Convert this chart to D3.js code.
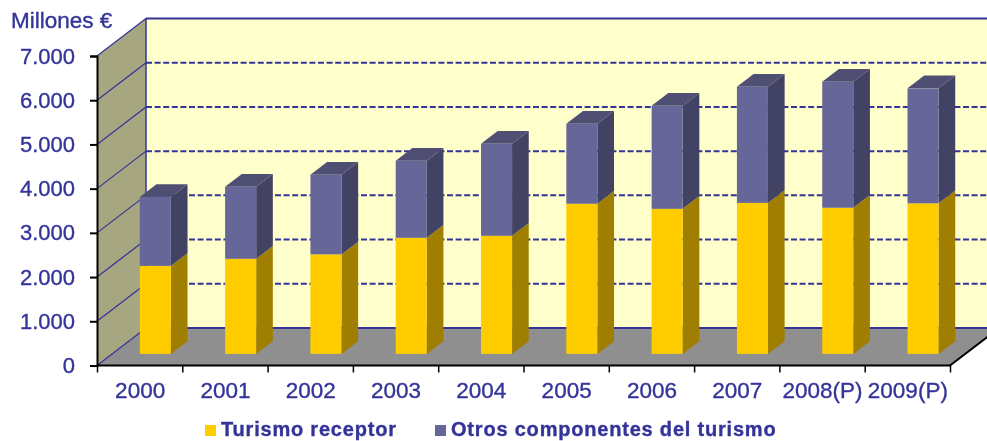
<!DOCTYPE html>
<html>
<head>
<meta charset="utf-8">
<script src="https://cdn.jsdelivr.net/npm/d3@7"></script>
<style>
  html, body { margin: 0; padding: 0; background: #fff; overflow: hidden; }
  svg { display: block; filter: blur(0.35px); }
  text { font-family: "Liberation Sans", Arial, sans-serif; fill: #333399; stroke: #333399; stroke-width: 0.35px; }
</style>
</head>
<body>
<svg id="chart"></svg>
<script>
// data
const years = ['2000', '2001', '2002', '2003', '2004', '2005', '2006', '2007', '2008(P)', '2009(P)'];
const turismoReceptor = [1990, 2150, 2250, 2625, 2670, 3395, 3280, 3415, 3305, 3405];
const otrosComponentes = [1560, 1630, 1800, 1745, 2080, 1810, 2330, 2625, 2850, 2600];
const yTicks = [0, 1000, 2000, 3000, 4000, 5000, 6000, 7000];
const seriesNames = ['Turismo receptor', 'Otros componentes del turismo'];

const width = 987;
const height = 441;
const blue = '#333399';

const svg = d3.select('#chart').attr('width', width).attr('height', height);

// front plane scales
const x = d3.scaleBand().domain(years).range([97.5, 950.5]).paddingInner(0.636).paddingOuter(0.318);
const xEdge = d3.scaleLinear().domain([0, years.length]).range([97, 950]);
const y = d3.scaleLinear().domain([0, 7000]).range([365.5, 56]);

// depth: 0 is the front plane, 1 is the back wall
const depthX = d3.scaleLinear().domain([0, 1]).range([0, 49]);
const depthY = d3.scaleLinear().domain([0, 1]).range([0, -37.5]);
const barDepth = [0.31, 0.65];

const project = (px, py, d) => [px + depthX(d), py + depthY(d)];
const poly = (pts) => 'M' + pts.map((p) => p.join(',')).join('L') + 'Z';

const [x0, x1] = xEdge.range();
const y0 = y(0);
const yTop = y(7000);

// left wall
svg.append('path')
  .attr('fill', '#a6a680')
  .attr('d', poly([project(x0, y0, 0), project(x0, yTop, 0), project(x0, yTop, 1), project(x0, y0, 1)]));

// back wall
svg.append('path')
  .attr('fill', '#ffffcc')
  .attr('d', poly([project(x0, y0, 1), project(x0, yTop, 1), project(x1, yTop, 1), project(x1, y0, 1)]));

// floor
svg.append('path')
  .attr('fill', '#8f8f8f')
  .attr('d', poly([project(x0, y0, 0), project(x1, y0, 0), project(x1, y0, 1), project(x0, y0, 1)]));

// gridlines on both walls
const grid = svg.append('g').attr('fill', 'none').attr('stroke', blue);
grid.selectAll('.side')
  .data(yTicks)
  .join('line')
  .attr('class', 'side')
  .attr('stroke-width', 1.2)
  .attr('x1', x0)
  .attr('y1', (d) => y(d))
  .attr('x2', (d) => project(x0, y(d), 1)[0])
  .attr('y2', (d) => project(x0, y(d), 1)[1]);
grid.selectAll('.back')
  .data(yTicks)
  .join('line')
  .attr('class', 'back')
  .attr('stroke-width', 2)
  .attr('stroke-dasharray', (d) => (d === 0 || d === 7000 ? null : '6 2.6'))
  .attr('x1', project(x0, 0, 1)[0])
  .attr('x2', project(x1, 0, 1)[0])
  .attr('y1', (d) => project(0, y(d), 1)[1])
  .attr('y2', (d) => project(0, y(d), 1)[1]);
grid.append('line')
  .attr('stroke-width', 1.5)
  .attr('x1', project(x0, 0, 1)[0])
  .attr('x2', project(x0, 0, 1)[0])
  .attr('y1', project(0, yTop, 1)[1])
  .attr('y2', project(0, y0, 1)[1]);

// stacked bars
const stackData = years.map((year, i) => ({ year, a: turismoReceptor[i], b: otrosComponentes[i] }));
const stacked = d3.stack().keys(['a', 'b'])(stackData);
const faceColors = [
  { front: '#ffcc00', side: '#a07f00' },
  { front: '#666699', side: '#424264', top: '#4f4f74' },
];

stacked.forEach((layer, s) => {
  const colors = faceColors[s];
  const g = svg.append('g');
  layer.forEach((seg) => {
    const left = x(seg.data.year);
    const right = left + x.bandwidth();
    const near = barDepth[0];
    const far = barDepth[1];
    // the value scale is shifted back to the plane the bar stands on
    const front = (v) => project(0, y(v), near)[1];
    const px = (v) => project(v, 0, near)[0];
    g.append('path')
      .attr('fill', colors.side)
      .attr('d', poly([
        [px(right), front(seg[0])],
        [px(right), front(seg[1])],
        [px(right) + depthX(far - near), front(seg[1]) + depthY(far - near)],
        [px(right) + depthX(far - near), front(seg[0]) + depthY(far - near)],
      ]));
    if (colors.top) {
      g.append('path')
        .attr('fill', colors.top)
        .attr('d', poly([
          [px(left), front(seg[1])],
          [px(right), front(seg[1])],
          [px(right) + depthX(far - near), front(seg[1]) + depthY(far - near)],
          [px(left) + depthX(far - near), front(seg[1]) + depthY(far - near)],
        ]));
    }
    g.append('rect')
      .attr('fill', colors.front)
      .attr('x', px(left))
      .attr('width', x.bandwidth())
      .attr('y', front(seg[1]))
      .attr('height', front(seg[0]) - front(seg[1]));
  });
});

// y axis
const yAxis = d3.axisLeft(y)
  .tickValues(yTicks)
  .tickSize(7)
  .tickPadding(15)
  .tickFormat((d) => (d === 0 ? '0' : d3.format(',')(d).replace(',', '.')));
const yG = svg.append('g').attr('transform', `translate(${x0},0)`).call(yAxis);
yG.select('.domain').attr('stroke', '#000').attr('stroke-width', 2);
yG.selectAll('.tick line').attr('stroke', '#000').attr('stroke-width', 2);
yG.selectAll('text').attr('font-size', 22).style('fill', blue);

// x axis: labels centred in the band, ticks on the band edges
const xAxis = d3.axisBottom(x).tickSize(0).tickPadding(17);
const xG = svg.append('g').attr('transform', `translate(0,${y0})`).call(xAxis);
xG.select('.domain').remove();
xG.selectAll('text').attr('font-size', 22.5).style('fill', blue);

const edgeAxis = d3.axisBottom(xEdge).tickValues(d3.range(years.length + 1)).tickSize(7).tickFormat('');
const edgeG = svg.append('g').attr('transform', `translate(0,${y0})`).call(edgeAxis);
edgeG.select('.domain').attr('stroke', '#000').attr('stroke-width', 2).attr('d', `M${x0},0H${x1}`);
edgeG.selectAll('.tick line').attr('stroke', '#000').attr('stroke-width', 1.5);

// right edge of the floor
const floorEnd = project(x1, y0, 1);
svg.append('line')
  .attr('stroke', '#000')
  .attr('stroke-width', 2)
  .attr('x1', x1).attr('y1', y0)
  .attr('x2', floorEnd[0]).attr('y2', floorEnd[1]);

// unit label
svg.append('text')
  .attr('x', 11)
  .attr('y', 28)
  .attr('font-size', 22.5)
  .text('Millones €');

// legend
const legendX = [205, 435];
const legendColors = [faceColors[0].front, faceColors[1].front];
const legend = svg.append('g');
seriesNames.forEach((name, i) => {
  legend.append('rect')
    .attr('x', legendX[i])
    .attr('y', 425)
    .attr('width', 11)
    .attr('height', 11)
    .attr('fill', legendColors[i]);
  legend.append('text')
    .attr('x', legendX[i] + 16)
    .attr('y', 436)
    .attr('font-size', 20)
    .attr('font-weight', 'bold')
    .attr('letter-spacing', 0.8)
    .text(name);
});
</script>
</body>
</html>
